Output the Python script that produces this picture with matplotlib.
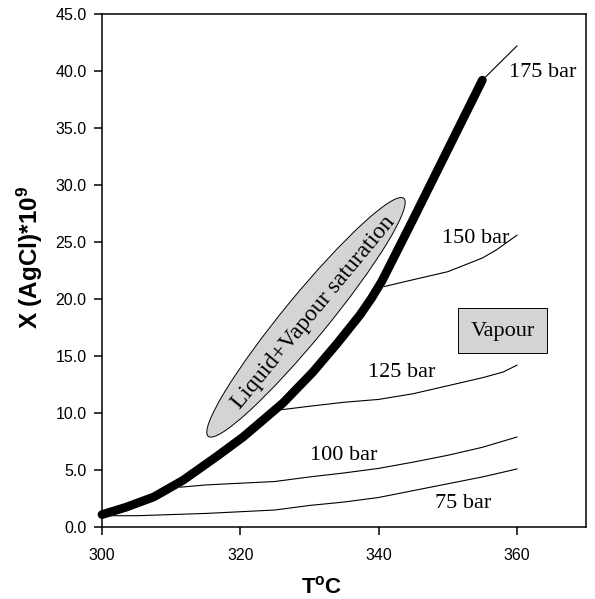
import matplotlib
matplotlib.use("Agg")
import matplotlib.pyplot as plt
from matplotlib.patches import Ellipse, Rectangle
from matplotlib.transforms import ScaledTranslation

plt.rcParams['font.family'] = ['Liberation Sans', 'DejaVu Sans']
plt.rcParams['mathtext.fontset'] = 'custom'
plt.rcParams['mathtext.rm'] = 'Liberation Sans'
plt.rcParams['mathtext.bf'] = 'Liberation Sans:bold'
plt.rcParams['mathtext.default'] = 'bf'

# Saturation curve (liquid + vapour)
sat_T = [300, 303.5, 307.5, 311.7, 316.6, 320.4, 323.5, 326.2, 330.5, 334, 337.3, 339, 340.5, 342.5, 345, 350, 355]
sat_X = [1.1, 1.75, 2.65, 4.1, 6.2, 7.9, 9.5, 10.9, 13.6, 16.1, 18.6, 20.1, 21.6, 24.0, 27.0, 33.1, 39.2]

# Isobars
b75_T = [300, 305, 310, 315, 320, 325, 330, 335, 340, 345, 350, 355, 360]
b75_X = [1.0, 1.0, 1.1, 1.2, 1.35, 1.5, 1.9, 2.2, 2.6, 3.2, 3.8, 4.4, 5.1]
b100_T = [311.3, 315, 320, 325, 330, 335, 340, 345, 350, 355, 360]
b100_X = [3.5, 3.7, 3.85, 4.0, 4.4, 4.75, 5.15, 5.7, 6.3, 7.0, 7.9]
b125_T = [326, 330, 335, 340, 345, 350, 355, 358, 360]
b125_X = [10.3, 10.6, 10.95, 11.2, 11.7, 12.4, 13.1, 13.6, 14.2]
b150_T = [340.8, 345, 350, 355, 357, 360]
b150_X = [21.1, 21.7, 22.4, 23.6, 24.3, 25.6]
b175_T = [355, 360]
b175_X = [39.2, 42.2]

isobars = [(b75_T, b75_X), (b100_T, b100_X), (b125_T, b125_X), (b150_T, b150_X), (b175_T, b175_X)]
labels = ["75 bar", "100 bar", "125 bar", "150 bar", "175 bar"]
label_pos = [(348.1, 2.1), (330.1, 6.3), (338.5, 13.6), (349.2, 25.3), (358.8, 39.9)]

x_ticks = [300, 320, 340, 360]
y_ticks = [0, 5, 10, 15, 20, 25, 30, 35, 40, 45]

fig = plt.figure(figsize=(5.95, 5.99), dpi=100)
ax = fig.add_axes([0.1714, 0.120, 0.8136, 0.8566])
ax.set_xlim(300, 370)
ax.set_ylim(0, 45)

serif = ['Liberation Serif', 'DejaVu Serif']

for (t, x) in isobars:
    ax.plot(t, x, color='black', lw=0.8, zorder=3)
ax.plot(sat_T, sat_X, color='black', lw=6.3, solid_capstyle='round',
        solid_joinstyle='round', zorder=4, clip_on=False)

for lab, (tx, ty) in zip(labels, label_pos):
    ax.text(tx, ty, lab, family=serif, fontsize=16, ha='left', va='center', zorder=5)

# Ellipse (drawn in screen space, centred on a data point)
ell_tr = fig.dpi_scale_trans + ScaledTranslation(329.5, 18.4, ax.transData)
ell = Ellipse((0, 0), width=3.08, height=0.44, angle=50.6, transform=ell_tr,
              facecolor='#d4d4d4', edgecolor='black', lw=0.7, zorder=2)
ax.add_patch(ell)
ax.text(330.6, 18.8, "Liquid+Vapour saturation", family=serif, fontsize=17,
        rotation=50.4, rotation_mode='anchor', ha='center', va='center', zorder=5)

# Vapour box
ax.add_patch(Rectangle((351.5, 15.24), 12.9, 3.94, facecolor='#d4d4d4',
                       edgecolor='black', lw=0.7, zorder=2))
ax.text(357.95, 17.2, "Vapour", family=serif, fontsize=16, ha='center', va='center', zorder=5)

ax.set_xticks(x_ticks)
ax.set_yticks(y_ticks)
ax.set_yticklabels([f"{v:.1f}" for v in y_ticks])
ax.tick_params(axis='both', direction='out', length=6, width=1.1, labelsize=11.5)
ax.tick_params(axis='x', pad=9)
ax.tick_params(axis='y', pad=5)
for s in ax.spines.values():
    s.set_linewidth(1.1)

ax.text(0.453, -0.118, r"T$^{o}$C", transform=ax.transAxes, fontsize=16,
        fontweight='bold', ha='center', va='center')
ax.text(-0.149, 0.526, r"X (AgCl)*10$^{9}$", transform=ax.transAxes, fontsize=17.5,
        fontweight='bold', ha='center', va='center', rotation=90)

fig.savefig("out.png", dpi=100)
